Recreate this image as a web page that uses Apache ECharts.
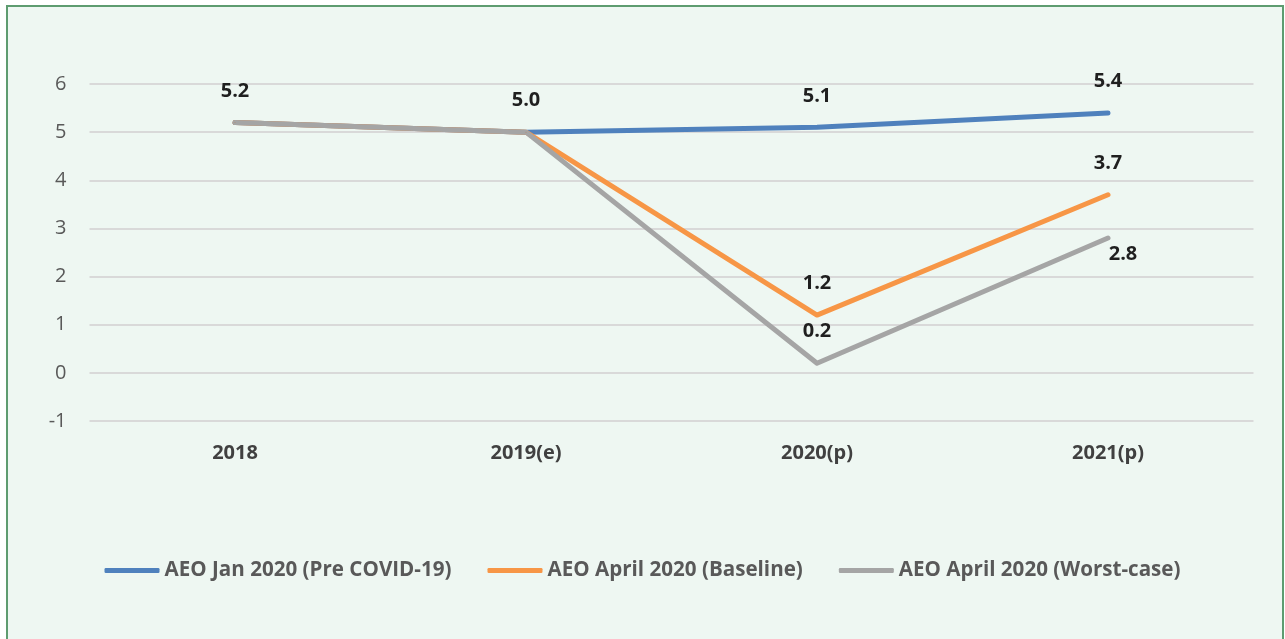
<!DOCTYPE html>
<html>
<head>
<meta charset="utf-8">
<script src="https://cdn.jsdelivr.net/npm/echarts@6/dist/echarts.min.js"></script>
<style>
  html, body { margin: 0; padding: 0; background: #ffffff; }
  #frame { position: absolute; left: 6px; top: 5px; width: 1274px; height: 660px; border: 2px solid #5E9C70; background: #EEF7F2; }
  #chart { position: absolute; left: 0; top: 0; width: 1285px; height: 639px; }
</style>
</head>
<body>
<div id="frame"></div>
<div id="chart"></div>
<script>
const categories = ['2018', '2019(e)', '2020(p)', '2021(p)'];
const seriesNames = ['AEO Jan 2020 (Pre COVID-19)', 'AEO April 2020 (Baseline)', 'AEO April 2020 (Worst-case)'];
const preCovid = [5.2, 5.0, 5.1, 5.4];
const baseline = [5.2, 5.0, 1.2, 3.7];
const worstCase = [5.2, 5.0, 0.2, 2.8];
const yTicks = { min: -1, max: 6, interval: 1 };

const FONT = '"Open Sans", sans-serif';
const labelStyle = { show: true, position: 'top', distance: 21, fontFamily: FONT, fontWeight: 'bold', fontSize: 20, color: '#1f1f1f', formatter: p => p.value.toFixed(1) };
const hidden = { show: false };

function mk(values, labelFn) {
  return values.map((v, i) => ({ value: v, label: labelFn(i) }));
}

const chart = echarts.init(document.getElementById('chart'), null, { renderer: 'canvas' });
chart.setOption({
  backgroundColor: 'transparent',
  animation: false,
  grid: { left: 89.5, right: 31.5, top: 84, bottom: 218 },
  legend: {
    top: 555,
    left: 'center',
    itemWidth: 55,
    itemHeight: 5,
    itemGap: 36,
    icon: 'roundRect',
    textStyle: { fontFamily: FONT, fontWeight: 'bold', fontSize: 20.6, color: '#595959' },
    data: seriesNames
  },
  xAxis: {
    type: 'category',
    data: categories,
    boundaryGap: true,
    axisLine: { show: false },
    axisTick: { show: false },
    axisLabel: { fontFamily: FONT, fontWeight: 'bold', fontSize: 20, color: '#404040', margin: 22 }
  },
  yAxis: {
    type: 'value',
    min: yTicks.min, max: yTicks.max, interval: yTicks.interval,
    axisLine: { show: false },
    axisTick: { show: false },
    splitLine: { lineStyle: { color: '#D9D9D9', width: 2 } },
    axisLabel: { fontFamily: FONT, fontSize: 20, color: '#595959', margin: 23 }
  },
  series: [
    {
      name: seriesNames[0], type: 'line', data: mk(preCovid, i => labelStyle),
      color: '#4F81BD', lineStyle: { width: 5, cap: 'round', join: 'round' },
      symbol: 'circle', symbolSize: 1, showSymbol: true
    },
    {
      name: seriesNames[1], type: 'line', data: mk(baseline, i => (i >= 2 ? labelStyle : hidden)),
      color: '#F79646', lineStyle: { width: 5, cap: 'round', join: 'round' },
      symbol: 'circle', symbolSize: 1, showSymbol: true
    },
    {
      name: seriesNames[2], type: 'line',
      data: mk(worstCase, i => (i === 2 ? labelStyle : i === 3 ? Object.assign({}, labelStyle, { position: 'bottom', distance: 6, offset: [15, 0] }) : hidden)),
      color: '#A5A5A5', lineStyle: { width: 5, cap: 'round', join: 'round' },
      symbol: 'circle', symbolSize: 1, showSymbol: true
    }
  ]
});
</script>
</body>
</html>
